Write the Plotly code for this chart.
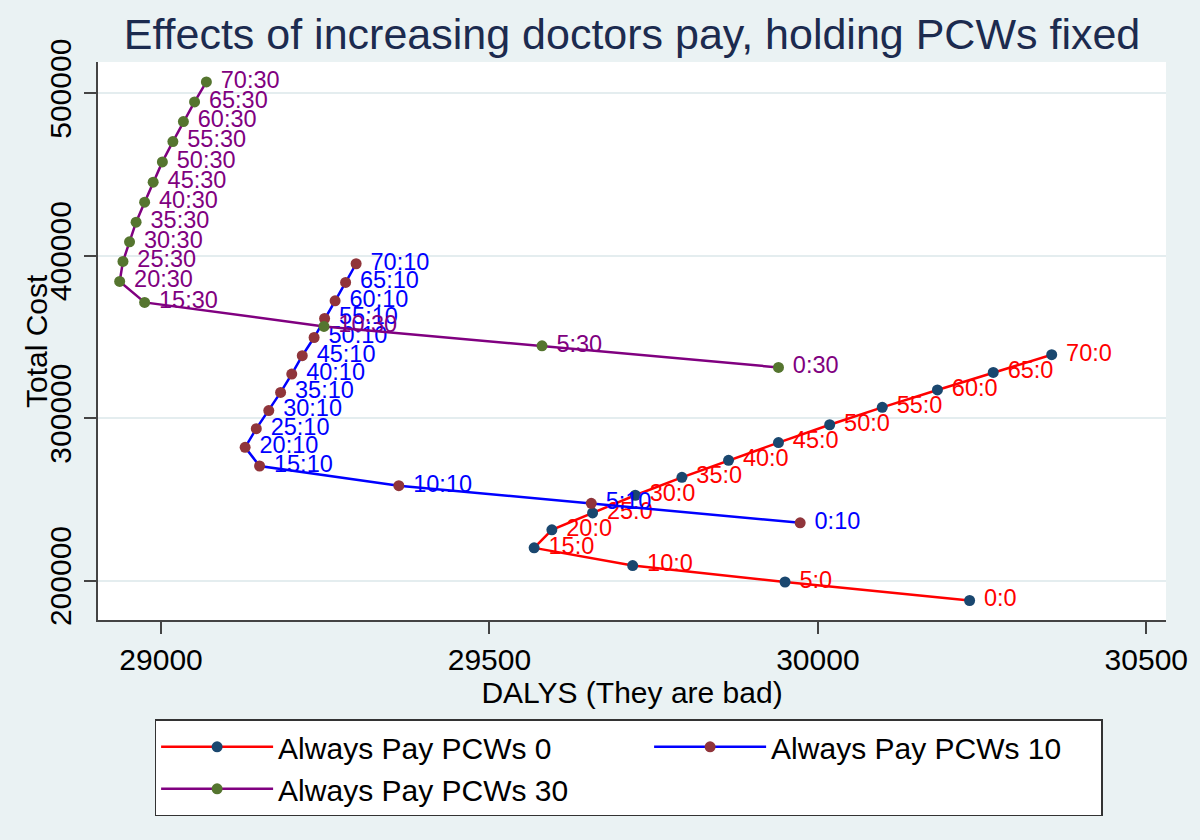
import plotly.graph_objects as go

# Doctors' pay levels (first part of each point label)
doctor_pay = [0, 5, 10, 15, 20, 25, 30, 35, 40, 45, 50, 55, 60, 65, 70]

# Always Pay PCWs 0
dalys_pcw0 = [30231, 29950, 29718, 29568, 29595, 29657, 29722, 29793, 29864, 29940, 30018, 30098, 30182, 30267, 30356]
cost_pcw0 = [187700, 199100, 209200, 220100, 231200, 241600, 252500, 263500, 274000, 284900, 295900, 306600, 317300, 328100, 339000]

# Always Pay PCWs 10
dalys_pcw10 = [29973, 29655, 29362, 29150, 29128, 29145, 29164, 29182, 29199, 29215, 29233, 29249, 29265, 29281, 29297]
cost_pcw10 = [235500, 247500, 258400, 270500, 282000, 293500, 304600, 315800, 327100, 338400, 349600, 361300, 372200, 383500, 395000]

# Always Pay PCWs 30
dalys_pcw30 = [29940, 29580, 29248, 28975, 28937, 28942, 28952, 28962, 28975, 28988, 29002, 29018, 29034, 29051, 29069]
cost_pcw30 = [331200, 344500, 356400, 371200, 384100, 396400, 408500, 420600, 432900, 445200, 457700, 470200, 482500, 494600, 506900]

x_ticks = [29000, 29500, 30000, 30500]
y_ticks = [200000, 300000, 400000, 500000]

series = [
    ("Always Pay PCWs 0", 0, dalys_pcw0, cost_pcw0, "#ff0000", "#1a476f", None),
    ("Always Pay PCWs 10", 10, dalys_pcw10, cost_pcw10, "#0000ff", "#90353b", 325),
    ("Always Pay PCWs 30", 30, dalys_pcw30, cost_pcw30, "#800080", "#55752f", None),
]

FONT = "Liberation Sans, Arial, Helvetica, sans-serif"

fig = go.Figure()
for name, pcw, xs, ys, lcol, mcol, lw in series:
    labels = ["\u00a0" + f"{d}:{pcw}" for d in doctor_pay]
    tr = dict(
        x=xs, y=ys, name=name,
        mode="lines+markers+text",
        text=labels, textposition="middle right",
        textfont=dict(family=FONT, size=23.5, color=lcol),
        line=dict(color=lcol, width=2.5),
        marker=dict(color=mcol, size=11),
        cliponaxis=False,
    )
    if lw:
        tr["legendwidth"] = lw
    fig.add_trace(go.Scatter(**tr))

fig.update_layout(
    width=1200, height=840,
    paper_bgcolor="#eaf2f3",
    plot_bgcolor="#ffffff",
    margin=dict(l=98, r=34, t=62, b=220, autoexpand=False),
    font=dict(family=FONT, size=30, color="#000000"),
    title=dict(
        text="Effects of increasing doctors pay, holding PCWs fixed",
        x=0.5, xref="paper", xanchor="center",
        y=1 - 34 / 840, yref="container", yanchor="middle",
        font=dict(family=FONT, size=43, color="#1c2b4f"),
    ),
    showlegend=True,
    legend=dict(
        orientation="h",
        x=0.053, xanchor="left",
        y=-0.178, yanchor="top",
        bgcolor="#ffffff",
        bordercolor="#333333", borderwidth=1.5,
        font=dict(family=FONT, size=30, color="#000000"),
        entrywidth=366, entrywidthmode="pixels",
        itemwidth=112,
        tracegroupgap=0,
    ),
    annotations=[dict(
        text="Total Cost", textangle=-90,
        xref="paper", yref="paper",
        x=(36 - 98) / 1068, y=0.5,
        xanchor="center", yanchor="middle",
        showarrow=False, font=dict(family=FONT, size=30, color="#000000"),
    )],
)

fig.update_xaxes(
    range=[28904, 30530],
    tickvals=x_ticks, ticktext=[str(v) for v in x_ticks],
    ticks="outside", ticklen=12, tickwidth=1.5, tickcolor="#444444",
    showline=True, linecolor="#444444", linewidth=1.5,
    showgrid=False, zeroline=False, automargin=False,
    tickfont=dict(size=30),
    ticklabelstandoff=0,
    title=dict(text="DALYS (They are bad)", font=dict(size=30), standoff=4),
)
fig.update_yaxes(
    range=[175700, 519200],
    tickvals=y_ticks, ticktext=[str(v) for v in y_ticks],
    ticks="outside", ticklen=12, tickwidth=1.5, tickcolor="#444444",
    showline=True, linecolor="#444444", linewidth=1.5,
    showgrid=True, gridcolor="#e4edef", gridwidth=1.5,
    zeroline=False, automargin=False,
    tickangle=-90,
    tickfont=dict(size=30),
    ticklabelstandoff=1,
)

fig.write_html(
    "out.html",
    config={"displayModeBar": False},
    post_script="document.body.style.margin='0';document.body.style.background='#eaf2f3';",
)
